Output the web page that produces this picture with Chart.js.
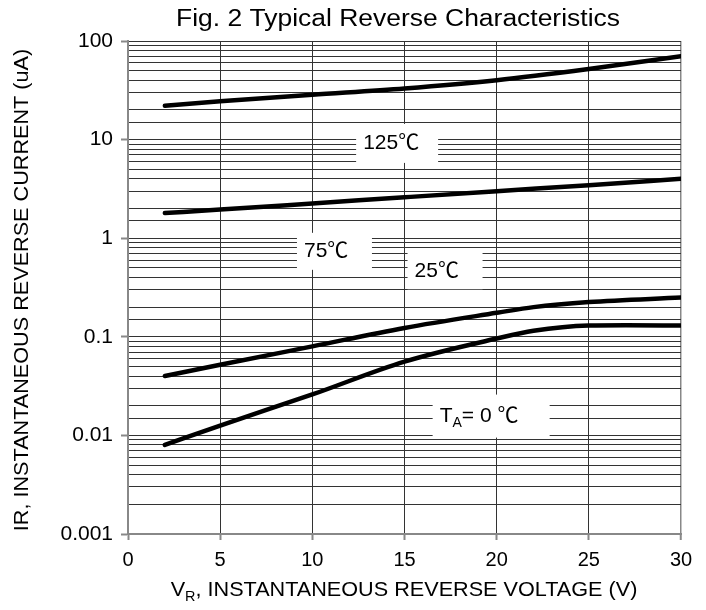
<!DOCTYPE html>
<html>
<head>
<meta charset="utf-8">
<script src="https://cdn.jsdelivr.net/npm/chart.js@4.4.1/dist/chart.umd.min.js"></script>
<style>
  html, body { margin: 0; padding: 0; background: #fff; }
  #wrap { width: 706px; height: 610px; }
</style>
</head>
<body>
<div id="wrap"><canvas id="c" width="706" height="610"></canvas></div>
<script>
// (log y axis, uA)
const xs125 = [2, 5, 10, 15, 20, 25, 30];
const ir125 = [22, 24.5, 28.5, 33, 40, 52, 70];
const xs75 = [2, 5, 10, 15, 20, 25, 30];
const ir75 = [1.8, 1.95, 2.25, 2.6, 3.0, 3.45, 4.0];
const xs25 = [2, 5, 10, 15, 20, 22, 25, 30];
const ir25 = [0.04, 0.052, 0.08, 0.123, 0.175, 0.2, 0.225, 0.25];
const xs0 = [2, 5, 10, 15, 20, 22, 25, 27, 30];
const ir0 = [0.008, 0.0126, 0.026, 0.056, 0.096, 0.115, 0.13, 0.131, 0.13];

const yMin = 0.001, yMax = 100;
const xMin = 0, xMax = 30, xStep = 5;

// curve labels: position in data units, box size in px
const tempLabels = [
  { x: 14.6, y: 9.15, w: 82, h: 39, parts: [["125℃", 0]] },
  { x: 11.2, y: 0.736, w: 75, h: 37, parts: [["75℃", 0]] },
  { x: 17.2, y: 0.468, w: 75, h: 37, parts: [["25℃", 0]] },
  { x: 19.7, y: 0.0157, w: 117, h: 43, parts: [["T", 0], ["A", 1], ["= 0 ℃", 0]] }
];

const FONT = "'Liberation Sans', Arial, 'Noto Sans CJK SC', sans-serif";

function toPts(xs, ys) { return xs.map((x, i) => ({ x, y: ys[i] })); }

function isDecade(v) {
  const l = Math.log10(v);
  return Math.abs(l - Math.round(l)) < 1e-6;
}

// text with subscript pieces
function drawRich(ctx, parts, x, y, size, align) {
  const pieces = parts.map(([t, sub]) => {
    ctx.font = `${sub ? Math.round(size * 0.68) : size}px ${FONT}`;
    return { t, sub, w: ctx.measureText(t).width };
  });
  const total = pieces.reduce((a, p) => a + p.w, 0);
  let cx = align === "center" ? x - total / 2 : x;
  ctx.textAlign = "left";
  ctx.textBaseline = "middle";
  pieces.forEach(p => {
    ctx.font = `${p.sub ? Math.round(size * 0.68) : size}px ${FONT}`;
    ctx.fillText(p.t, cx, p.sub ? y + size * 0.32 : y);
    cx += p.w;
  });
}

const overlay = {
  id: "overlay",
  beforeDatasetsDraw(chart) {
    const ctx = chart.ctx;
    const sx = chart.scales.x, sy = chart.scales.y;
    ctx.save();
    tempLabels.forEach(l => {
      const cx = sx.getPixelForValue(l.x);
      const cy = sy.getPixelForValue(l.y);
      ctx.fillStyle = "#fff";
      ctx.fillRect(cx - l.w / 2, cy - l.h / 2, l.w, l.h);
      ctx.fillStyle = "#000";
      drawRich(ctx, l.parts, cx - l.w / 2 + 7, cy, 21, "left");
    });
    ctx.restore();
  },
  afterDraw(chart) {
    const ctx = chart.ctx;
    ctx.save();
    ctx.fillStyle = "#000";

    // title, a bit wider than plain Arial like the scan
    ctx.save();
    ctx.translate(398, 20);
    ctx.scale(1.15, 1);
    ctx.font = `23px ${FONT}`;
    ctx.textAlign = "center";
    ctx.textBaseline = "middle";
    ctx.fillText("Fig. 2 Typical Reverse Characteristics", 0, 0);
    ctx.restore();

    ctx.save();
    ctx.translate(404, 590);
    ctx.scale(1.03, 1);
    drawRich(ctx, [["V", 0], ["R", 1], [", INSTANTANEOUS REVERSE VOLTAGE (V)", 0]], 0, 0, 21, "center");
    ctx.restore();

    ctx.translate(22, 290);
    ctx.rotate(-Math.PI / 2);
    ctx.scale(1.03, 1);
    ctx.font = `21px ${FONT}`;
    ctx.textAlign = "center";
    ctx.textBaseline = "middle";
    ctx.fillText("IR, INSTANTANEOUS REVERSE CURRENT (uA)", 0, 0);
    ctx.restore();
  }
};

const lineStyle = {
  borderColor: "#000",
  borderWidth: 4.5,
  pointRadius: 0,
  fill: false,
  cubicInterpolationMode: "monotone",
  borderCapStyle: "round"
};

new Chart(document.getElementById("c"), {
  type: "line",
  data: {
    datasets: [
      { label: "125℃", data: toPts(xs125, ir125), ...lineStyle },
      { label: "75℃", data: toPts(xs75, ir75), ...lineStyle },
      { label: "25℃", data: toPts(xs25, ir25), ...lineStyle },
      { label: "0℃", data: toPts(xs0, ir0), ...lineStyle }
    ]
  },
  options: {
    responsive: false,
    animation: false,
    devicePixelRatio: 1,
    layout: { padding: { left: 0, right: 25, top: 41, bottom: 0 } },
    plugins: { legend: { display: false }, tooltip: { enabled: false } },
    scales: {
      x: {
        type: "linear",
        min: xMin, max: xMax,
        afterFit: s => { s.height = 76; },
        ticks: {
          stepSize: xStep,
          color: "#000",
          font: { family: FONT, size: 20 },
          padding: 8,
          maxRotation: 0
        },
        grid: {
          color: c => c.tick.value === xMin ? "rgba(0,0,0,0)" : (c.tick.value === xMax ? "#888" : "#333"),
          lineWidth: c => c.tick.value === xMax ? 1.5 : 1,
          tickColor: "#888",
          tickLength: 6,
          tickWidth: 2
        },
        border: { color: "#888", width: 2 }
      },
      y: {
        type: "logarithmic",
        min: yMin, max: yMax,
        afterFit: s => { s.width = 128; },
        ticks: {
          autoSkip: false,
          color: "#000",
          font: { family: FONT, size: 21 },
          padding: 8,
          callback: v => isDecade(v) ? String(Number(v.toPrecision(1))) : ""
        },
        grid: {
          color: c => c.tick.value === yMin ? "rgba(0,0,0,0)" : "#333",
          lineWidth: 1,
          tickColor: c => isDecade(c.tick.value) ? "#888" : "rgba(0,0,0,0)",
          tickLength: 7,
          tickWidth: 2
        },
        border: { color: "#888", width: 2 }
      }
    }
  },
  plugins: [overlay]
});
</script>
</body>
</html>
